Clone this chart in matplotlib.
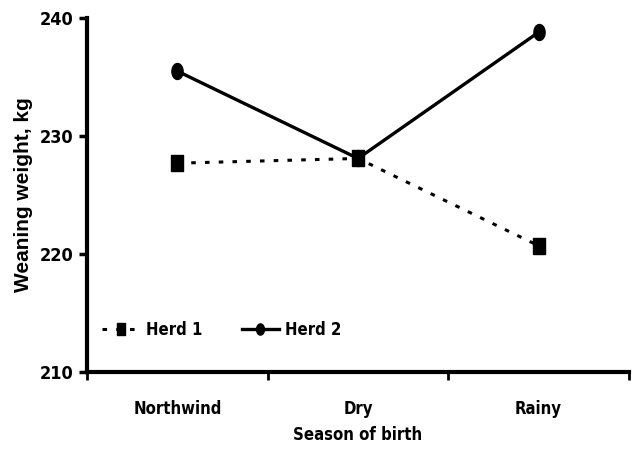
import matplotlib
matplotlib.use("Agg")
import matplotlib.pyplot as plt
from matplotlib import font_manager
from matplotlib.font_manager import FontProperties
from matplotlib.path import Path
import numpy as np

# datos
seasons = ["Northwind", "Dry", "Rainy"]
herd1 = [227.7, 228.1, 220.7]
herd2 = [235.5, 228.1, 238.8]
yticks = [210, 220, 230, 240]

# busca una fuente estrecha en negrita (tipo Arial Narrow Bold)
pesos = {'normal': 400, 'regular': 400, 'book': 400, 'medium': 500,
         'semibold': 600, 'demibold': 600, 'bold': 700, 'heavy': 800,
         'extra bold': 800, 'black': 900, 'light': 300, 'ultralight': 200}


def peso(f):
    w = f.weight
    if isinstance(w, str):
        return pesos.get(w.lower(), 400)
    return int(w)


cand = []
for f in font_manager.fontManager.ttflist:
    nombre = f.name.lower()
    estrecha = ('narrow' in nombre or 'condensed' in nombre or
                f.stretch in ('condensed', 'semi-condensed', 'extra-condensed') or
                'condensed' in f.fname.lower() or 'narrow' in f.fname.lower())
    if estrecha and f.style == 'normal':
        cand.append(f)
fuente = None
if cand:
    # la más cercana a negrita (700)
    cand.sort(key=lambda f: (abs(peso(f) - 700), 'liberation' not in f.name.lower()))
    fuente = cand[0].fname


def fp(size):
    if fuente:
        return FontProperties(fname=fuente, size=size)
    return FontProperties(family='Liberation Sans', weight='bold', size=size)


fig = plt.figure(figsize=(6.32, 4.53), dpi=100)
ax = fig.add_axes([0.138, 0.179, 0.857, 0.781])

# marcadores algo más altos que anchos, como en el original
sq = Path([(-0.7, -1), (0.7, -1), (0.7, 1), (-0.7, 1), (-0.7, -1)],
          [Path.MOVETO, Path.LINETO, Path.LINETO, Path.LINETO, Path.CLOSEPOLY])
t = np.linspace(0, 2 * np.pi, 40)
el = Path(np.column_stack([0.7 * np.cos(t), np.sin(t)]), closed=True)

x = np.arange(len(seasons))
ax.plot(x, herd1, color='black', linestyle=(0, (1.5, 3)), linewidth=2.2,
        marker=sq, markersize=12, label='Herd 1')
ax.plot(x, herd2, color='black', linestyle='-', linewidth=2.4,
        marker=el, markersize=11.5, label='Herd 2')

ax.set_xlim(-0.5, 2.5)
ax.set_ylim(210, 240)
ax.set_yticks(yticks)
ax.set_yticklabels([str(v) for v in yticks], fontproperties=fp(13))
ax.set_xticks(x)
ax.set_xticklabels(seasons, fontproperties=fp(12))
ax.set_xticks([-0.5, 0.5, 1.5, 2.5], minor=True)
ax.tick_params(axis='x', which='major', length=0, pad=20)
ax.tick_params(axis='x', which='minor', length=6, width=2, direction='out')
ax.tick_params(axis='y', length=6, width=2.5, direction='out', pad=4)

for s in ['top', 'right']:
    ax.spines[s].set_visible(False)
for s in ['left', 'bottom']:
    ax.spines[s].set_linewidth(3)

ax.set_ylabel("Weaning weight, kg", labelpad=5,
              fontproperties=FontProperties(family='Liberation Sans', weight='bold', size=15))
ax.set_xlabel("Season of birth", fontproperties=fp(12), labelpad=6)

ax.legend(loc='lower left', bbox_to_anchor=(0.0, 0.05), ncol=2, frameon=False,
          prop=fp(12), handlelength=2.2, handletextpad=0.4, columnspacing=2.4,
          markerscale=0.7)

plt.savefig("out.png", dpi=100)
